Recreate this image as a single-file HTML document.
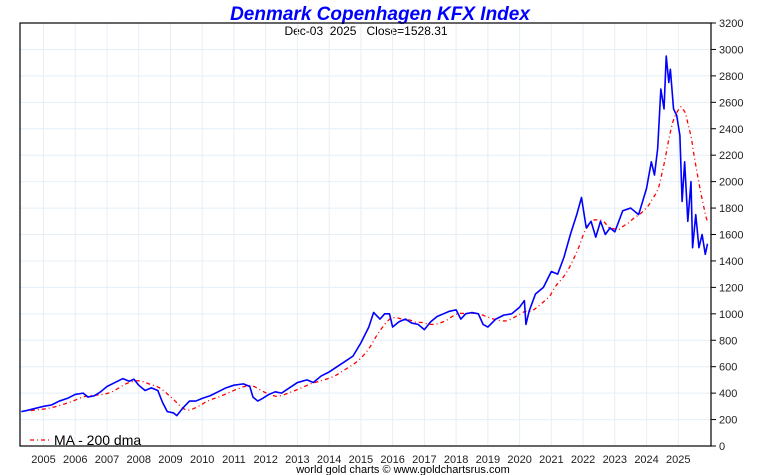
<!DOCTYPE html>
<html><head><meta charset="utf-8"><style>
body{margin:0;background:#fff;}
svg{display:block;font-family:"Liberation Sans",sans-serif;}
</style></head><body>
<svg id="chart" width="760" height="475">
<text x="380" y="20" text-anchor="middle" font-size="19" font-weight="bold" font-style="italic" fill="#0000ff">Denmark Copenhagen KFX Index</text>
<text x="366" y="35" text-anchor="middle" font-size="12" fill="#000" xml:space="preserve">Dec-03  2025   Close=1528.31</text>
<text x="403" y="473" text-anchor="middle" font-size="11" fill="#000">world gold charts © www.goldchartsrus.com</text>
<g id="grid"></g><g id="axes"></g><g id="series"></g>
<g>
<line x1="30" y1="440" x2="50" y2="440" stroke="#ff0000" stroke-width="1.2" stroke-dasharray="4,3,1,3"/>
<text x="54" y="445" font-size="14" fill="#000">MA - 200 dma</text>
</g>
</svg>
<script>
const dates=[2004.3,2004.5,2004.75,2005.0,2005.25,2005.5,2005.75,2006.0,2006.25,2006.4,2006.6,2006.8,2007.0,2007.25,2007.5,2007.7,2007.85,2008.0,2008.2,2008.4,2008.6,2008.75,2008.9,2009.1,2009.2,2009.4,2009.6,2009.8,2010.0,2010.25,2010.5,2010.75,2011.0,2011.3,2011.5,2011.6,2011.75,2011.9,2012.1,2012.3,2012.5,2012.75,2013.0,2013.3,2013.5,2013.75,2014.0,2014.25,2014.5,2014.75,2015.0,2015.25,2015.4,2015.6,2015.75,2015.9,2016.0,2016.2,2016.4,2016.6,2016.8,2017.0,2017.2,2017.4,2017.6,2017.8,2018.0,2018.15,2018.3,2018.5,2018.7,2018.85,2019.0,2019.25,2019.5,2019.75,2020.0,2020.15,2020.2,2020.3,2020.5,2020.75,2021.0,2021.2,2021.4,2021.6,2021.8,2021.95,2022.1,2022.25,2022.4,2022.55,2022.7,2022.85,2023.0,2023.25,2023.5,2023.75,2024.0,2024.15,2024.25,2024.35,2024.45,2024.55,2024.62,2024.7,2024.75,2024.85,2024.95,2025.05,2025.12,2025.2,2025.3,2025.4,2025.45,2025.55,2025.65,2025.75,2025.85,2025.92];
const values=[260,270,285,300,310,340,360,390,400,370,380,410,450,480,510,490,505,460,420,440,420,330,260,250,230,290,340,340,360,380,410,440,460,470,450,370,340,360,390,410,400,440,480,500,480,530,560,600,640,680,780,900,1010,960,1000,1000,900,940,960,930,920,880,940,980,1000,1020,1030,960,1000,1010,1000,920,900,960,990,1000,1050,1100,920,1020,1150,1200,1320,1300,1430,1600,1750,1880,1650,1700,1580,1700,1600,1650,1620,1780,1800,1750,1950,2150,2050,2250,2700,2550,2950,2750,2850,2550,2500,2350,1850,2150,1700,2000,1500,1750,1500,1600,1450,1530];
const yTicks=[0,200,400,600,800,1000,1200,1400,1600,1800,2000,2200,2400,2600,2800,3000,3200];
const xYears=[2005,2006,2007,2008,2009,2010,2011,2012,2013,2014,2015,2016,2017,2018,2019,2020,2021,2022,2023,2024,2025];
const NS='http://www.w3.org/2000/svg';
const L=20,R=711,T=23,B=446;
const xs=t=>43.5+(t-2005)*31.74;
const ys=v=>B-(v/3200)*(B-T);
function mk(tag,attrs,parent){const e=document.createElementNS(NS,tag);for(const k in attrs)e.setAttribute(k,attrs[k]);parent.appendChild(e);return e;}
const grid=document.getElementById('grid'),axes=document.getElementById('axes'),ser=document.getElementById('series');
yTicks.forEach(v=>{const y=ys(v);
 const g=mk('line',{x1:L,x2:R,y1:y,y2:y,stroke:'#e4eff8','stroke-width':1},grid);
 
 
 const tk=mk('line',{x1:R,x2:R+5,y1:y,y2:y,stroke:'#000'},axes);
 
 
 const t=mk('text',{x:R+8,y:y+4,'font-size':11,fill:'#222'},axes);t.textContent=v;
 
 
});
xYears.forEach(yr=>{const x=xs(yr);
 const g=mk('line',{x1:x,x2:x,y1:T,y2:B,stroke:'#e4eff8','stroke-width':1},grid);
 
 
 const t=mk('text',{x:x,y:463,'font-size':11,fill:'#222','text-anchor':'middle'},axes);t.textContent=yr;
 
 
});
const frame=mk('rect',{x:L,y:T,width:R-L,height:B-T,fill:'none',stroke:'#000','stroke-width':1.2},axes);


function interp(t){for(let i=1;i<dates.length;i++){if(t<=dates[i]){const f=(t-dates[i-1])/(dates[i]-dates[i-1]);return values[i-1]+f*(values[i]-values[i-1]);}}return values[values.length-1];}
const step=1/250,win=0.8;const maPts=[];
for(let t=dates[0]+0.3;t<=dates[dates.length-1];t+=step*5){let s=0,n=0;for(let u=Math.max(dates[0],t-win);u<=t;u+=step){s+=interp(u);n++;}maPts.push([xs(t),ys(s/n)]);}
const ma=mk('polyline',{points:maPts.map(p=>p.join(',')).join(' '),fill:'none',stroke:'#ff0000','stroke-width':1.3,'stroke-dasharray':'4,3,1,3'},ser);


const pr=mk('polyline',{points:dates.map((d,i)=>xs(d)+','+ys(values[i])).join(' '),fill:'none',stroke:'#0000ff','stroke-width':1.6,'stroke-linejoin':'round'},ser);


</script>
</body></html>
